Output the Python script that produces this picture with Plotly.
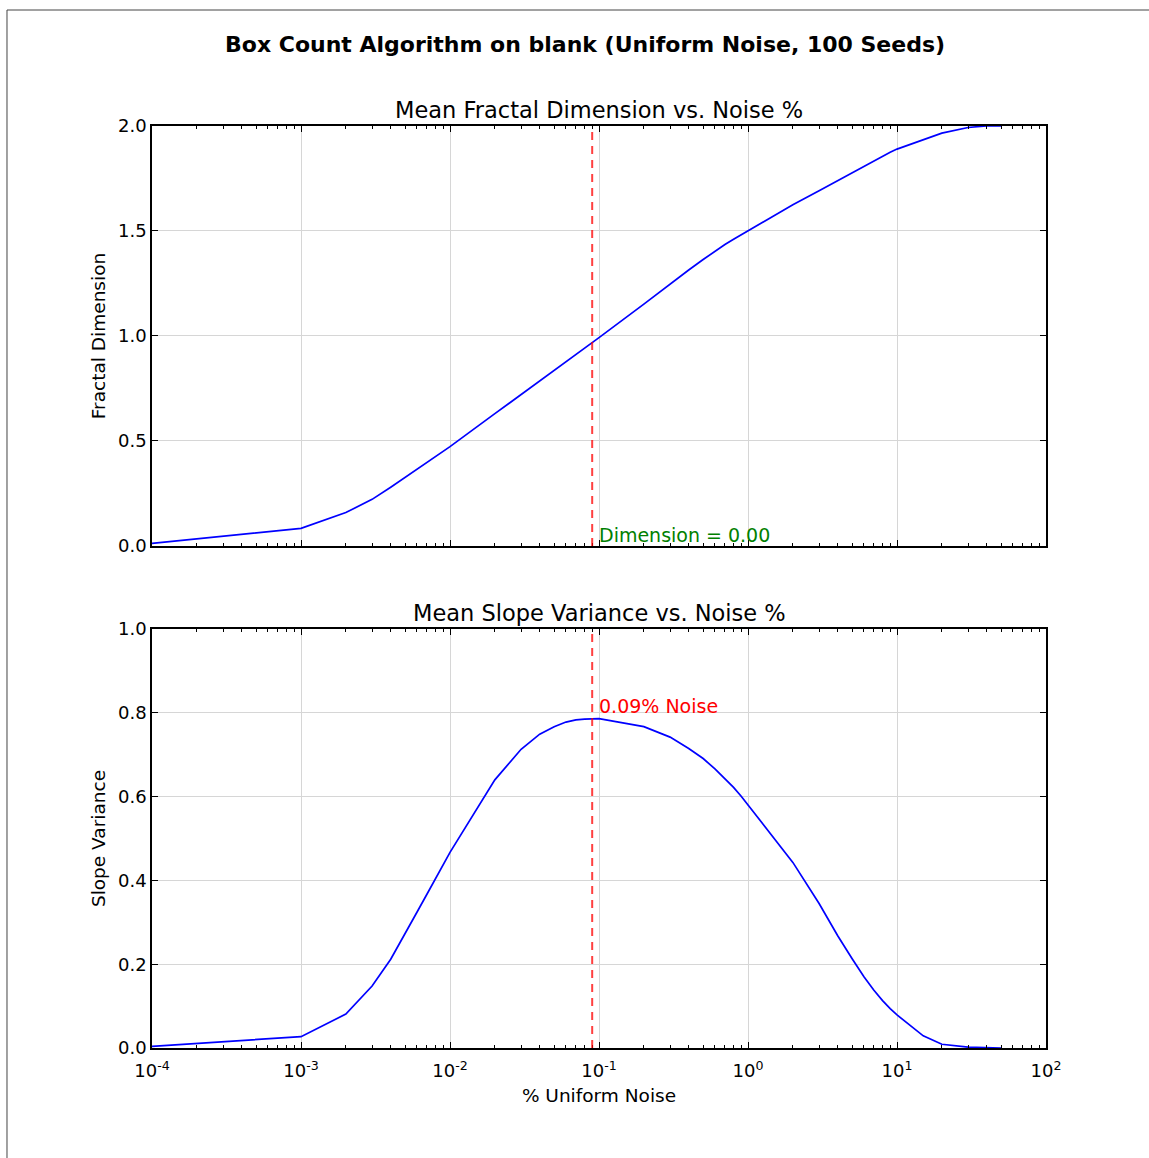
import math
import plotly.graph_objects as go

# Noise levels (% of pixels flipped), log-spaced sampling
noise_pct = [
    1e-4,
    1e-3, 2e-3, 3e-3, 4e-3, 5e-3, 6e-3, 7e-3, 8e-3, 9e-3,
    1e-2, 2e-2, 3e-2, 4e-2, 5e-2, 6e-2, 7e-2, 8e-2, 9e-2,
    0.1, 0.2, 0.3, 0.4, 0.5, 0.6, 0.7, 0.8, 0.9,
    1, 2, 3, 4, 5, 6, 7, 8, 9,
    10, 15, 20, 30, 40, 50,
]

# Mean box-count fractal dimension at each noise level
mean_dimension = [
    0.012,
    0.084, 0.159, 0.222, 0.280, 0.327, 0.366, 0.398, 0.426, 0.450,
    0.473, 0.630, 0.721, 0.786, 0.836, 0.877, 0.912, 0.942, 0.969,
    0.992, 1.152, 1.248, 1.314, 1.364, 1.404, 1.436, 1.461, 1.482,
    1.500, 1.625, 1.692, 1.740, 1.778, 1.810, 1.836, 1.857, 1.875,
    1.890, 1.935, 1.966, 1.993, 2.000, 2.000,
]

# Mean variance of the log-log slope at each noise level
slope_variance = [
    0.004,
    0.027, 0.081, 0.148, 0.212, 0.272, 0.324, 0.367, 0.404, 0.437,
    0.467, 0.640, 0.713, 0.749, 0.767, 0.778, 0.783, 0.785, 0.786,
    0.786, 0.767, 0.742, 0.715, 0.691, 0.666, 0.643, 0.622, 0.601,
    0.580, 0.443, 0.345, 0.268, 0.213, 0.170, 0.138, 0.113, 0.094,
    0.079, 0.029, 0.009, 0.002, 0.001, 0.000,
]

peak_noise = 0.09
peak_label = "0.09% Noise"
dimension_label = "Dimension = 0.00"

decades = [1e-4, 1e-3, 1e-2, 1e-1, 1e0, 1e1, 1e2]
decade_text = ["10<sup>-4</sup>", "10<sup>-3</sup>", "10<sup>-2</sup>", "10<sup>-1</sup>",
               "10<sup>0</sup>", "10<sup>1</sup>", "10<sup>2</sup>"]
minor_ticks = [m * d for d in decades[:-1] for m in range(2, 10)]

dim_ticks = [0.0, 0.5, 1.0, 1.5, 2.0]
var_ticks = [0.0, 0.2, 0.4, 0.6, 0.8, 1.0]

FONT = "DejaVu Sans"
TICK_SIZE = 18
GRID = "#d6d6d6"

fig = go.Figure()

fig.add_trace(go.Scatter(x=noise_pct, y=mean_dimension, mode="lines",
                         line=dict(color="#0000ff", width=1.7),
                         xaxis="x", yaxis="y", showlegend=False))
fig.add_trace(go.Scatter(x=noise_pct, y=slope_variance, mode="lines",
                         line=dict(color="#0000ff", width=1.7),
                         xaxis="x2", yaxis="y2", showlegend=False))

common_x = dict(
    type="log", range=[-4, 2], tickmode="array", tickvals=decades,
    ticktext=decade_text, ticks="inside", ticklen=6, tickwidth=1,
    tickcolor="black", showline=True, linecolor="black", linewidth=1.5,
    mirror="allticks", showgrid=True, gridcolor=GRID, gridwidth=1,
    zeroline=False, ticklabelstandoff=6,
    minor=dict(tickmode="array", tickvals=minor_ticks, ticks="inside",
               ticklen=3, tickwidth=1, tickcolor="black", showgrid=False),
    tickfont=dict(family=FONT, size=TICK_SIZE, color="black"),
)
common_y = dict(
    ticks="inside", ticklen=6, tickwidth=1, tickcolor="black",
    showline=True, linecolor="black", linewidth=1.5, mirror="allticks",
    showgrid=True, gridcolor=GRID, gridwidth=1, zeroline=False,
    tickformat=".1f", tickmode="array",
    tickfont=dict(family=FONT, size=TICK_SIZE, color="black"),
)

fig.update_layout(
    width=1149, height=1158,
    margin=dict(l=152, r=103, t=126, b=110, pad=0),
    paper_bgcolor="white", plot_bgcolor="white",
    font=dict(family=FONT, color="black"),
    xaxis=dict(common_x, domain=[0, 1], anchor="y", showticklabels=False),
    yaxis=dict(common_y, domain=[0.5445, 1.0], anchor="x", range=[0, 2],
               tickvals=dim_ticks,
               title=dict(text="Fractal Dimension", standoff=8,
                          font=dict(family=FONT, size=18.5))),
    xaxis2=dict(common_x, domain=[0, 1], anchor="y2", showticklabels=True,
                title=dict(text="% Uniform Noise", standoff=9,
                           font=dict(family=FONT, size=18.5))),
    yaxis2=dict(common_y, domain=[0, 0.4544], anchor="x2", range=[0, 1],
                tickvals=var_ticks,
                title=dict(text="Slope Variance", standoff=8,
                           font=dict(family=FONT, size=18.5))),
)

# Dashed marker at the noise level of peak slope variance, across both panels
for xr, yr in (("x", "y domain"), ("x2", "y2 domain")):
    fig.add_shape(type="line", xref=xr, yref=yr, x0=peak_noise, x1=peak_noise,
                  y0=0, y1=1, layer="above",
                  line=dict(color="rgba(255,0,0,0.75)", width=2, dash="8px,6px"))

# Annotations on log axes take log10 positions
label_x = math.log10(0.1)

annotations = [
    dict(text="<b>Box Count Algorithm on blank (Uniform Noise, 100 Seeds)</b>",
         xref="paper", yref="paper", x=0.4843, y=1.0889, xanchor="center",
         yanchor="middle", showarrow=False, font=dict(family=FONT, size=22)),
    dict(text="Mean Fractal Dimension vs. Noise %", xref="paper", yref="paper",
         x=0.5, y=1.0, yshift=1, xanchor="center", yanchor="bottom",
         showarrow=False, font=dict(family=FONT, size=22.5)),
    dict(text="Mean Slope Variance vs. Noise %", xref="paper", yref="y2 domain",
         x=0.5, y=1.0, yshift=1, xanchor="center", yanchor="bottom",
         showarrow=False, font=dict(family=FONT, size=22.5)),
    dict(text=dimension_label, xref="x", yref="y", x=label_x, y=0,
         xanchor="left", yanchor="bottom", showarrow=False, xshift=-2,
         yshift=-2, font=dict(family=FONT, size=19, color="#008000")),
    dict(text=peak_label, xref="x2", yref="y2", x=label_x, y=0.785,
         xanchor="left", yanchor="bottom", showarrow=False, xshift=-2,
         font=dict(family=FONT, size=19, color="#ff0000")),
]
fig.update_layout(annotations=annotations)

# Thin figure frame along the left and top edges
frame = dict(color="#444444", width=1)
fig.add_shape(type="line", xref="paper", yref="paper",
              x0=-0.1622, x1=-0.1622, y0=1.1258, y1=-0.13, line=frame)
fig.add_shape(type="line", xref="paper", yref="paper",
              x0=-0.1622, x1=1.13, y0=1.1258, y1=1.1258, line=frame)

fig.write_html("out.html")
